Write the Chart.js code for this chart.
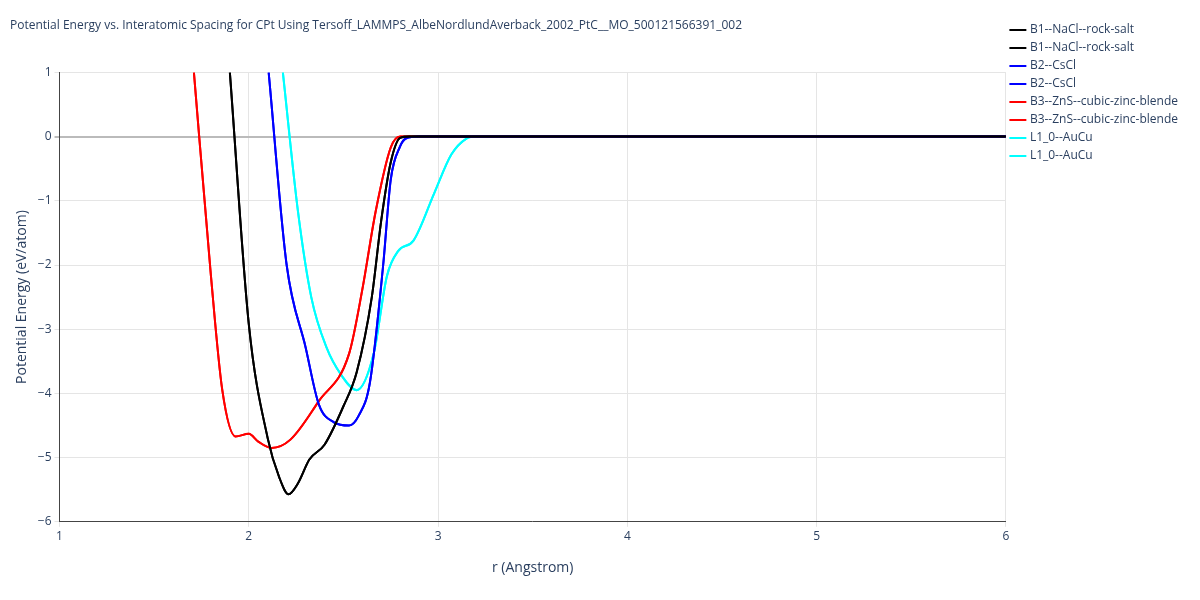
<!DOCTYPE html>
<html><head><meta charset="utf-8">
<script src="https://cdn.jsdelivr.net/npm/chart.js@4/dist/chart.umd.min.js"></script>
<style>body{margin:0;background:#fff}#w{width:1200px;height:600px}</style>
</head><body><div id="w"><canvas id="c"></canvas></div>
<script>
const blackR=[1.90,2.0,2.1,2.16,2.21,2.26,2.32,2.4,2.5,2.57,2.65,2.7,2.75,2.8,2.85,6];
const blackE=[1,-2.92,-4.7,-5.3,-5.57,-5.4,-5.03,-4.8,-4.2,-3.67,-2.5,-1.3,-0.4,-0.02,0,0];
const blueR=[2.105,2.2,2.3,2.37,2.45,2.53,2.58,2.64,2.71,2.75,2.8,2.83,2.9,6];
const blueE=[1,-2.0,-3.28,-4.17,-4.45,-4.5,-4.35,-3.83,-2.0,-0.67,-0.15,-0.03,0,6&&0];
const redR=[1.71,1.80,1.86,1.93,2.0,2.05,2.12,2.22,2.37,2.53,2.60,2.67,2.75,2.8,6];
const redE=[1,-2.17,-3.95,-4.67,-4.63,-4.75,-4.85,-4.72,-4.12,-3.38,-2.38,-1.17,-0.17,0,0];
const cyanR=[2.18,2.26,2.33,2.41,2.49,2.57,2.66,2.73,2.79,2.87,2.98,3.07,3.15,3.2,6];
const cyanE=[1,-1.17,-2.5,-3.28,-3.72,-3.95,-3.38,-2.17,-1.78,-1.62,-0.88,-0.28,-0.03,0,0];
const xTicks=[1,2,3,4,5,6];
function pts(r,e){return r.map((x,i)=>({x:x,y:e[i]}));}
function ds(label,r,e,col){return {label:label,data:pts(r,e),borderColor:col,backgroundColor:col,borderWidth:2,pointRadius:0,showLine:true,tension:0.35,cubicInterpolationMode:'monotone'};}
Chart.defaults.font.family='"Open Sans", sans-serif';
Chart.defaults.color='#2a3f5f';
const minus=v=>String(v).replace('-','\u2212');
new Chart(document.getElementById('c'),{type:'scatter',
data:{datasets:[
ds('B1--NaCl--rock-salt',blackR,blackE,'#000000'),
ds('B1--NaCl--rock-salt',blackR,blackE,'#000000'),
ds('B2--CsCl',blueR,blueE,'#0000ff'),
ds('B2--CsCl',blueR,blueE,'#0000ff'),
ds('B3--ZnS--cubic-zinc-blende',redR,redE,'#ff0000'),
ds('B3--ZnS--cubic-zinc-blende',redR,redE,'#ff0000'),
ds('L1_0--AuCu',cyanR,cyanE,'#00ffff'),
ds('L1_0--AuCu',cyanR,cyanE,'#00ffff')]},
options:{responsive:true,maintainAspectRatio:false,animation:false,
layout:{padding:{top:18,left:10,right:12,bottom:20}},
plugins:{title:{display:true,align:'start',text:'Potential Energy vs. Interatomic Spacing for CPt Using Tersoff_LAMMPS_AlbeNordlundAverback_2002_PtC__MO_500121566391_002',font:{size:12,weight:'normal'},padding:{left:50,bottom:40}},
legend:{position:'right',align:'start',labels:{usePointStyle:true,pointStyle:'line',boxWidth:30,font:{size:12},padding:6}},tooltip:{enabled:false}},
scales:{x:{type:'linear',min:1,max:6,afterBuildTicks:a=>{a.ticks=xTicks.map(v=>({value:v}));},
title:{display:true,text:'r (Angstrom)',font:{size:14},padding:{top:12}},grid:{color:'#e5e5e5',drawTicks:true,tickLength:5},border:{color:'#444'},ticks:{font:{size:12}}},
y:{min:-6,max:1,ticks:{stepSize:1,callback:v=>minus(v),font:{size:12}},
title:{display:true,text:'Potential Energy (eV/atom)',font:{size:14}},
grid:{color:c=>c.tick&&c.tick.value===0?'#bbbbbb':'#e5e5e5',lineWidth:c=>c.tick&&c.tick.value===0?2:1,tickLength:5},border:{color:'#444'}}}}});
</script></body></html>
